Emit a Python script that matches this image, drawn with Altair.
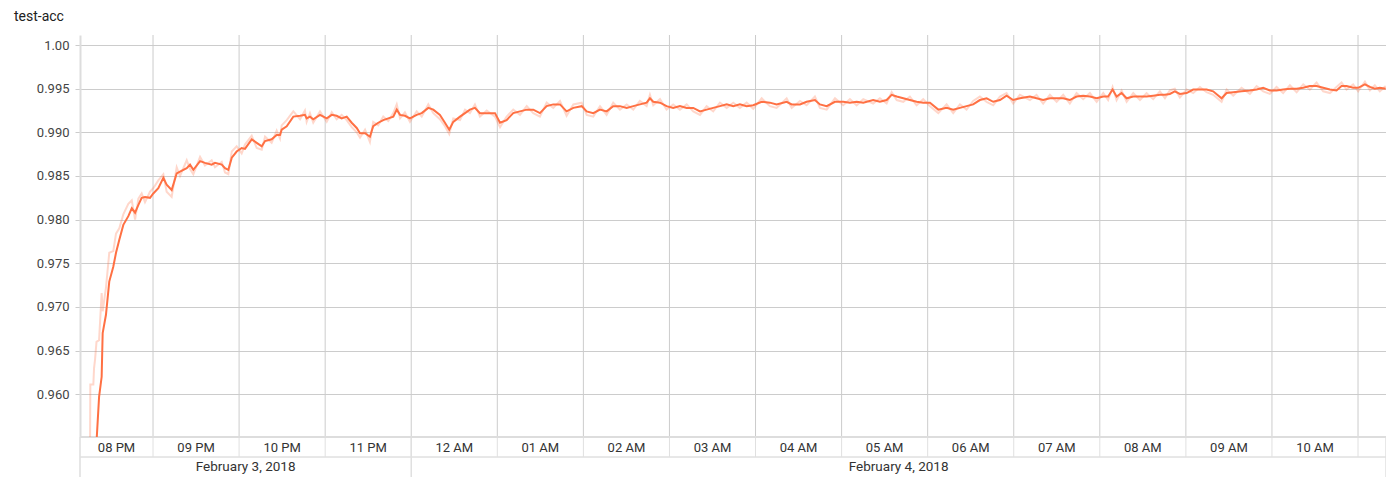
import altair as alt
import pandas as pd

TITLE = "test-acc"
START = pd.Timestamp("2018-02-03 20:00:00")

# minutes after 2018-02-03 20:00 for each logged point
minutes = [
    20.6, 22.4, 24.2, 24.9, 27.2, 29.5, 32.3, 34.2, 36.5, 39.3,
    42.8, 45.2, 47.5, 49.8, 52.1, 54.4, 57.9, 60.2, 63.7, 67.2,
    69.5, 73.0, 76.5, 78.8, 83.5, 85.8, 88.1, 92.8, 96.2, 100.9,
    103.2, 107.9, 110.2, 112.5, 114.9, 118.3, 121.8, 124.1, 128.8, 132.3,
    135.8, 138.1, 142.7, 146.2, 148.5, 149.7, 153.2, 157.8, 162.5, 165.9,
    167.1, 169.4, 171.7, 176.4, 181.1, 184.6, 188.0, 191.5, 195.0, 198.5,
    202.0, 204.3, 207.8, 211.2, 213.5, 217.0, 220.5, 224.0, 227.5, 229.9,
    232.2, 235.6, 239.1, 243.8, 247.3, 251.9, 255.4, 260.0, 263.5, 266.5,
    269.3, 274.0, 277.5, 280.9, 284.4, 287.9, 292.6, 298.4, 301.9, 306.5,
    311.1, 315.8, 320.5, 325.1, 329.7, 334.4, 339.0, 343.7, 348.3, 353.0,
    358.8, 362.3, 366.9, 371.6, 376.2, 380.8, 385.5, 390.2, 394.8, 399.4,
    404.1, 406.4, 408.7, 413.4, 418.0, 422.6, 427.3, 432.0, 436.6, 441.3,
    445.9, 450.5, 455.2, 459.9, 464.5, 469.1, 473.8, 478.4, 484.3, 490.0,
    494.7, 501.7, 505.2, 511.0, 515.6, 521.4, 524.9, 529.6, 535.4, 541.1,
    545.8, 550.5, 555.1, 562.0, 566.7, 571.4, 574.9, 578.4, 583.0, 587.6,
    592.3, 596.9, 601.6, 607.4, 613.2, 617.8, 622.5, 627.1, 631.7, 636.4,
    641.1, 645.7, 650.4, 655.0, 659.6, 664.3, 671.3, 675.9, 680.5, 685.2,
    689.9, 694.5, 699.1, 703.8, 708.4, 713.1, 717.8, 722.4, 725.8, 728.9,
    731.7, 735.2, 738.7, 743.3, 748.0, 752.6, 757.2, 761.9, 765.4, 768.8,
    772.3, 775.8, 780.5, 785.1, 789.8, 794.4, 799.0, 804.9, 808.4, 813.0,
    818.8, 824.6, 829.3, 833.9, 838.5, 843.2, 847.8, 852.5, 857.2, 861.8,
    866.4, 871.1, 875.7, 880.4, 885.0, 888.5, 892.0, 896.6, 900.1, 904.8,
    908.3, 911.7, 915.2, 919.3,
]

smoothed = [
    0.9545, 0.9597, 0.9620, 0.9670, 0.9691, 0.9729, 0.9746, 0.9762, 0.9777, 0.9794,
    0.9804, 0.9813, 0.9808, 0.9817, 0.9825, 0.9826, 0.9825, 0.9830, 0.9836, 0.9848,
    0.9840, 0.9834, 0.9853, 0.9855, 0.9859, 0.9863, 0.9857, 0.9867, 0.9865, 0.9863,
    0.9865, 0.9863, 0.9859, 0.9857, 0.9871, 0.9878, 0.9882, 0.9881, 0.9892, 0.9888,
    0.9884, 0.9890, 0.9892, 0.9897, 0.9897, 0.9903, 0.9907, 0.9918, 0.9919, 0.9920,
    0.9916, 0.9918, 0.9915, 0.9920, 0.9916, 0.9920, 0.9919, 0.9916, 0.9918, 0.9911,
    0.9905, 0.9899, 0.9899, 0.9895, 0.9907, 0.9911, 0.9914, 0.9916, 0.9918, 0.9926,
    0.9920, 0.9919, 0.9916, 0.9920, 0.9922, 0.9928, 0.9926, 0.9920, 0.9911, 0.9903,
    0.9912, 0.9918, 0.9922, 0.9926, 0.9928, 0.9922, 0.9922, 0.9922, 0.9911, 0.9914,
    0.9922, 0.9924, 0.9926, 0.9926, 0.9922, 0.9930, 0.9932, 0.9932, 0.9924, 0.9928,
    0.9930, 0.9924, 0.9922, 0.9926, 0.9924, 0.9930, 0.9930, 0.9928, 0.9930, 0.9932,
    0.9934, 0.9939, 0.9935, 0.9934, 0.9930, 0.9928, 0.9930, 0.9928, 0.9928, 0.9924,
    0.9926, 0.9928, 0.9930, 0.9932, 0.9930, 0.9932, 0.9930, 0.9931, 0.9935, 0.9934,
    0.9932, 0.9935, 0.9932, 0.9932, 0.9935, 0.9937, 0.9932, 0.9930, 0.9935, 0.9935,
    0.9934, 0.9935, 0.9934, 0.9937, 0.9935, 0.9937, 0.9943, 0.9941, 0.9939, 0.9937,
    0.9935, 0.9934, 0.9934, 0.9926, 0.9928, 0.9926, 0.9928, 0.9930, 0.9932, 0.9937,
    0.9939, 0.9935, 0.9937, 0.9942, 0.9937, 0.9939, 0.9941, 0.9939, 0.9937, 0.9939,
    0.9939, 0.9939, 0.9937, 0.9941, 0.9942, 0.9941, 0.9939, 0.9941, 0.9941, 0.9949,
    0.9941, 0.9945, 0.9939, 0.9941, 0.9941, 0.9941, 0.9942, 0.9943, 0.9943, 0.9944,
    0.9947, 0.9944, 0.9945, 0.9949, 0.9949, 0.9949, 0.9947, 0.9939, 0.9945, 0.9946,
    0.9947, 0.9948, 0.9949, 0.9951, 0.9948, 0.9948, 0.9949, 0.9950, 0.9950, 0.9951,
    0.9953, 0.9953, 0.9951, 0.9949, 0.9948, 0.9953, 0.9953, 0.9951, 0.9951, 0.9955,
    0.9952, 0.9950, 0.9951, 0.9950,
]

# raw (unsmoothed) values: a few early points, then one per logged minute above
raw_prefix_minutes = [16.1, 16.3, 18.4, 18.9, 19.6]
raw_prefix_values = [0.9540, 0.9611, 0.9611, 0.9630, 0.9640]
raw = [
    0.9660, 0.9662, 0.9716, 0.9695, 0.9722, 0.9762, 0.9764, 0.9784, 0.9790, 0.9806,
    0.9818, 0.9822, 0.9800, 0.9824, 0.9830, 0.9820, 0.9832, 0.9836, 0.9845, 0.9852,
    0.9832, 0.9826, 0.9860, 0.9850, 0.9868, 0.9858, 0.9852, 0.9872, 0.9862, 0.9868,
    0.9860, 0.9866, 0.9854, 0.9852, 0.9878, 0.9884, 0.9876, 0.9886, 0.9896, 0.9882,
    0.9880, 0.9895, 0.9888, 0.9902, 0.9893, 0.9908, 0.9914, 0.9924, 0.9915, 0.9925,
    0.9912, 0.9922, 0.9911, 0.9924, 0.9912, 0.9923, 0.9915, 0.9920, 0.9914, 0.9906,
    0.9900, 0.9894, 0.9903, 0.9889, 0.9912, 0.9908, 0.9918, 0.9913, 0.9922, 0.9932,
    0.9916, 0.9923, 0.9912, 0.9924, 0.9918, 0.9932, 0.9922, 0.9915, 0.9907, 0.9898,
    0.9916, 0.9914, 0.9926, 0.9922, 0.9932, 0.9918, 0.9925, 0.9918, 0.9906, 0.9918,
    0.9926, 0.9920, 0.9930, 0.9922, 0.9918, 0.9934, 0.9928, 0.9936, 0.9919, 0.9932,
    0.9934, 0.9920, 0.9918, 0.9930, 0.9920, 0.9934, 0.9926, 0.9932, 0.9926, 0.9936,
    0.9930, 0.9943, 0.9931, 0.9938, 0.9926, 0.9932, 0.9926, 0.9932, 0.9924, 0.9920,
    0.9930, 0.9924, 0.9934, 0.9928, 0.9934, 0.9928, 0.9934, 0.9927, 0.9939, 0.9930,
    0.9928, 0.9939, 0.9928, 0.9936, 0.9931, 0.9941, 0.9928, 0.9926, 0.9939, 0.9931,
    0.9938, 0.9931, 0.9938, 0.9933, 0.9939, 0.9933, 0.9946, 0.9937, 0.9935, 0.9941,
    0.9931, 0.9938, 0.9930, 0.9922, 0.9932, 0.9922, 0.9932, 0.9926, 0.9936, 0.9941,
    0.9935, 0.9931, 0.9941, 0.9945, 0.9933, 0.9943, 0.9937, 0.9943, 0.9933, 0.9943,
    0.9935, 0.9943, 0.9933, 0.9945, 0.9938, 0.9945, 0.9935, 0.9945, 0.9937, 0.9952,
    0.9937, 0.9948, 0.9935, 0.9945, 0.9937, 0.9945, 0.9938, 0.9947, 0.9939, 0.9948,
    0.9950, 0.9940, 0.9949, 0.9945, 0.9952, 0.9946, 0.9943, 0.9935, 0.9949, 0.9942,
    0.9951, 0.9944, 0.9953, 0.9947, 0.9944, 0.9952, 0.9945, 0.9954, 0.9946, 0.9955,
    0.9949, 0.9957, 0.9947, 0.9945, 0.9952, 0.9957, 0.9949, 0.9955, 0.9947, 0.9958,
    0.9948, 0.9954, 0.9947, 0.9953,
]

hour_labels = ["08 PM", "09 PM", "10 PM", "11 PM", "12 AM", "01 AM", "02 AM", "03 AM",
               "04 AM", "05 AM", "06 AM", "07 AM", "08 AM", "09 AM", "10 AM"]
date_labels = ["February 3, 2018", "February 4, 2018"]
y_ticks = [0.960, 0.965, 0.970, 0.975, 0.980, 0.985, 0.990, 0.995, 1.000]
x_domain_minutes = [9.1, 919.5]
y_domain = [0.9551, 1.00115]

LINE_COLOR = "#ff7043"
FONT = "Roboto"
W, H = 1306, 402

# ---------- tables ----------
def ts(m):
    return START + pd.Timedelta(minutes=m)

dom_start, dom_end = ts(x_domain_minutes[0]), ts(x_domain_minutes[1])

df_smooth = pd.DataFrame({"time": [ts(m) for m in minutes], "value": smoothed})
df_raw = pd.DataFrame({"time": [ts(m) for m in raw_prefix_minutes + minutes],
                       "value": raw_prefix_values + raw})

hour_starts = [START + pd.Timedelta(hours=i) for i in range(len(hour_labels))]
hour_mids = []
for h in hour_starts:
    a = max(h, dom_start)
    b = min(h + pd.Timedelta(hours=1), dom_end)
    hour_mids.append(a + (b - a) / 2)
df_hour_text = pd.DataFrame({"time": hour_mids, "label": hour_labels})
df_hour_lines = pd.DataFrame({"time": [h + pd.Timedelta(hours=1) for h in hour_starts]})

midnight = pd.Timestamp("2018-02-04 00:00:00")
date_bounds = [(dom_start, midnight), (midnight, dom_end)]
df_date_text = pd.DataFrame({"time": [a + (b - a) / 2 for a, b in date_bounds],
                             "label": date_labels})
df_date_lines = pd.DataFrame({"time": [midnight, dom_end]})
df_title = pd.DataFrame({"label": [TITLE]})

x_scale = alt.Scale(domain=[
    alt.DateTime(year=2018, month=2, date=3, hours=20, minutes=9, seconds=6),
    alt.DateTime(year=2018, month=2, date=4, hours=11, minutes=19, seconds=30),
])
y_scale = alt.Scale(domain=y_domain, nice=False, zero=False)

X = alt.X("time:T", scale=x_scale, axis=None)

y_axis = alt.Axis(
    values=y_ticks, title=None, grid=True, gridColor="#cccccc", gridWidth=1,
    domainColor="#dddddd", domainWidth=2, tickColor="#cccccc", tickSize=5,
    labelPadding=6, labelFont=FONT, labelFontSize=13, labelColor="#444444",
    labelExpr="datum.value == 1 ? '1.00' : format(datum.value, '.3f')",
)

grid_v = alt.Chart(df_hour_lines).mark_rule(color="#cccccc", strokeWidth=1).encode(
    x=X, y=alt.value(0), y2=alt.value(H))
sep_hours = alt.Chart(df_hour_lines).mark_rule(color="#e0e0e0", strokeWidth=1).encode(
    x=X, y=alt.value(H), y2=alt.value(H + 20))
sep_dates = alt.Chart(df_date_lines).mark_rule(color="#e0e0e0", strokeWidth=1.5).encode(
    x=X, y=alt.value(H), y2=alt.value(H + 40))
left_ext = alt.Chart(df_date_lines).mark_rule(color="#e6e6e6", strokeWidth=2).encode(
    x=alt.value(0), y=alt.value(H), y2=alt.value(H + 40))
bottom_line = alt.Chart(df_date_lines).mark_rule(color="#dddddd", strokeWidth=2).encode(
    x=alt.value(0), x2=alt.value(W), y=alt.value(H))
row_line = alt.Chart(df_date_lines).mark_rule(color="#e0e0e0", strokeWidth=1).encode(
    x=alt.value(0), x2=alt.value(W), y=alt.value(H + 20))

raw_line = alt.Chart(df_raw).mark_line(
    color=LINE_COLOR, opacity=0.28, strokeWidth=2, clip=True
).encode(x=X, y=alt.Y("value:Q", scale=y_scale, axis=y_axis))

smooth_line = alt.Chart(df_smooth).mark_line(
    color=LINE_COLOR, strokeWidth=2, clip=True
).encode(x=X, y=alt.Y("value:Q", scale=y_scale, axis=y_axis))

hour_text = alt.Chart(df_hour_text).mark_text(
    font=FONT, fontSize=13, color="#333333", baseline="middle", align="center"
).encode(x=X, y=alt.value(H + 11), text="label:N")

date_text = alt.Chart(df_date_text).mark_text(
    font=FONT, fontSize=13.5, color="#333333", baseline="middle", align="center"
).encode(x=X, y=alt.value(H + 30), text="label:N")

title_text = alt.Chart(df_title).mark_text(
    font=FONT, fontSize=14, color="#212121", baseline="alphabetic", align="left"
).encode(x=alt.value(-66), y=alt.value(-14), text="label:N")

chart = alt.layer(
    grid_v, sep_hours, sep_dates, left_ext, bottom_line, row_line,
    raw_line, smooth_line, hour_text, date_text, title_text,
).properties(
    width=W, height=H,
    padding={"left": 72, "top": 27, "right": 0, "bottom": 42},
    autosize=alt.AutoSizeParams(type="none"),
).configure_view(stroke=None)

chart.save("out.html", embed_options={"renderer": "svg", "actions": False})
